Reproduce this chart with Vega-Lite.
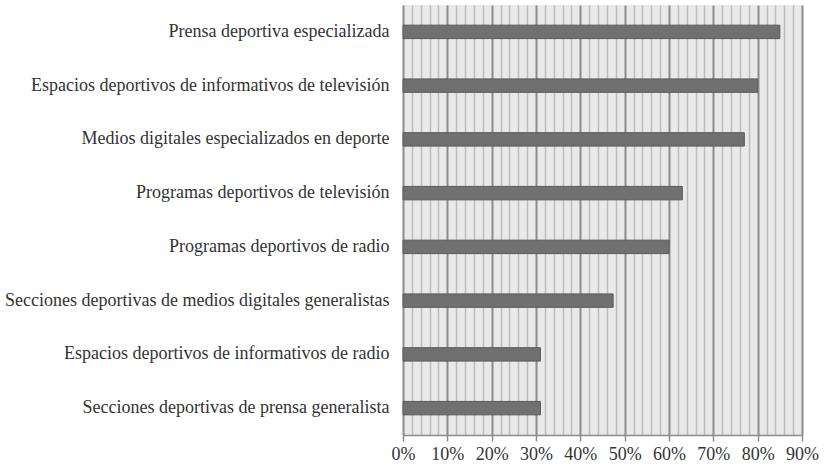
{
  "$schema": "https://vega.github.io/schema/vega-lite/v6.json",
  "width": 399,
  "height": 430,
  "autosize": {"type": "none"},
  "padding": {"left": 403, "top": 5, "right": 24, "bottom": 35},
  "background": "#ffffff",
  "config": {
    "view": {"fill": "#e9e9e9", "stroke": null},
    "font": "Liberation Serif",
    "axis": {"labelFont": "Liberation Serif", "labelColor": "#333333", "labelFontSize": 18}
  },
  "data": {
    "values": [
      {"medio": "Prensa deportiva especializada", "valor": 0.85},
      {"medio": "Espacios deportivos de informativos de televisión", "valor": 0.80},
      {"medio": "Medios digitales especializados en deporte", "valor": 0.77},
      {"medio": "Programas deportivos de televisión", "valor": 0.63},
      {"medio": "Programas deportivos de radio", "valor": 0.60},
      {"medio": "Secciones deportivas de medios digitales generalistas", "valor": 0.474},
      {"medio": "Espacios deportivos de informativos de radio", "valor": 0.31},
      {"medio": "Secciones deportivas de prensa generalista", "valor": 0.31}
    ]
  },
  "layer": [
    {
      "mark": {"type": "bar", "opacity": 0},
      "encoding": {
        "x": {
          "field": "valor", "type": "quantitative",
          "scale": {"domain": [0, 0.9], "nice": false},
          "axis": {
            "orient": "bottom",
            "values": [0.02,0.04,0.06,0.08,0.12,0.14,0.16,0.18,0.22,0.24,0.26,0.28,0.32,0.34,0.36,0.38,0.42,0.44,0.46,0.48,0.52,0.54,0.56,0.58,0.62,0.64,0.66,0.68,0.72,0.74,0.76,0.78,0.82,0.84,0.86,0.88],
            "grid": true, "gridColor": "#bdbdbd", "gridWidth": 1.5,
            "labels": false, "ticks": false, "domain": false, "title": null
          }
        },
        "y": {"field": "medio", "type": "nominal", "sort": null,
          "scale": {"paddingInner": 0.75, "paddingOuter": 0.375},
          "axis": {"title": null, "ticks": false, "domain": false, "labelPadding": 14, "labelLimit": 420}}
      }
    },
    {
      "mark": {"type": "bar", "color": "#707070", "stroke": "#5a5a5a", "strokeWidth": 1},
      "encoding": {
        "x": {
          "field": "valor", "type": "quantitative",
          "scale": {"domain": [0, 0.9], "nice": false},
          "axis": {
            "orient": "bottom",
            "values": [0, 0.1, 0.2, 0.3, 0.4, 0.5, 0.6, 0.7, 0.8, 0.9],
            "format": ".0%",
            "labelOverlap": false, "labelFlush": false, "labelBound": false,
            "grid": true, "gridColor": "#8c8c8c", "gridWidth": 2,
            "domain": true, "domainColor": "#8c8c8c", "domainWidth": 1.5,
            "ticks": true, "tickColor": "#8c8c8c", "tickSize": 6, "tickWidth": 1.5,
            "labelPadding": 4, "title": null
          }
        },
        "y": {
          "field": "medio", "type": "nominal", "sort": null,
          "scale": {"paddingInner": 0.75, "paddingOuter": 0.375},
          "axis": {"title": null, "ticks": false, "domain": false, "labelPadding": 14, "labelLimit": 420}
        }
      }
    }
  ],
  "resolve": {"axis": {"x": "independent"}}
}
